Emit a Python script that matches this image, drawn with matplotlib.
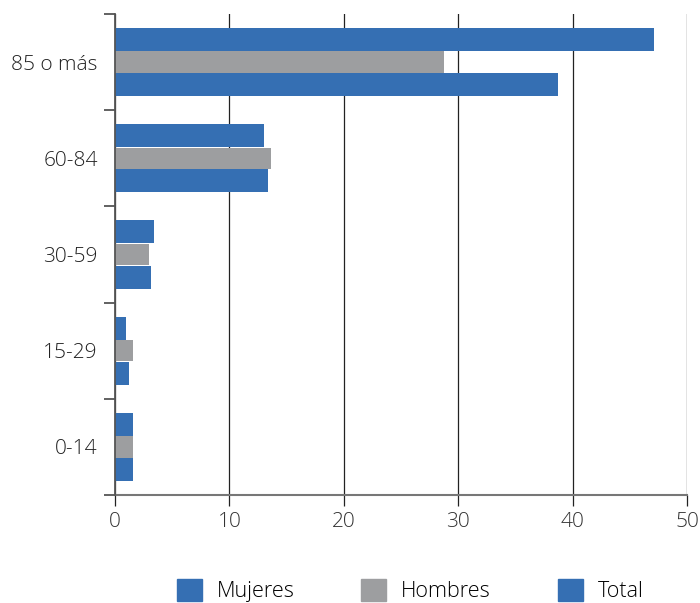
import numpy as np
import matplotlib.pyplot as plt
from matplotlib.patches import Patch

plt.rcParams['font.family'] = ['Open Sans', 'DejaVu Sans']

#%% datos
grupos = ['0-14', '15-29', '30-59', '60-84', '85 o más']
mujeres = [1.55, 0.95, 3.4, 13.0, 47.1]
hombres = [1.55, 1.55, 3.0, 13.6, 28.8]
total = [1.55, 1.2, 3.15, 13.35, 38.7]
series = ['Mujeres', 'Hombres', 'Total']

azul = '#356fb3'
gris = '#9d9ea0'

#%% figura
fig = plt.figure(figsize=(7, 6.03), dpi=100)
ax = fig.add_axes([0.1643, 0.179, 0.8171, 0.7978])

y = np.arange(len(grupos))
h = 0.24
d = 0.235
ax.barh(y + d, mujeres, height=h, color=azul, zorder=3)
ax.barh(y, hombres, height=h * 0.92, color=gris, zorder=3)
ax.barh(y - d, total, height=h, color=azul, zorder=3)

ax.set_xlim(0, 50)
ax.set_ylim(-0.5, len(grupos) - 0.5)
ax.set_xticks(np.arange(0, 51, 10))
ax.set_xticklabels([str(v) for v in range(0, 51, 10)], fontsize=15,
                   fontweight='light', color='#333333')
ax.xaxis.grid(True, color='#222222', linewidth=0.9, zorder=0)

# ticks mayores en los limites de cada grupo, etiquetas en el centro
ax.set_yticks(np.arange(-0.5, len(grupos), 1.0))
ax.set_yticklabels([])
ax.set_yticks(y, minor=True)
ax.set_yticklabels(grupos, minor=True, fontsize=15, fontweight='light',
                   color='#222222')
ax.tick_params(axis='y', which='major', direction='out', length=8,
               width=1.3, color='#555555')
ax.tick_params(axis='y', which='minor', length=0, pad=12.5)
ax.tick_params(axis='x', direction='out', length=8, width=0.9,
               color='#222222', pad=4)

for s in ['top', 'right']:
    ax.spines[s].set_visible(False)
ax.spines['left'].set_color('#555555')
ax.spines['left'].set_linewidth(1.3)
ax.spines['bottom'].set_color('#777777')
ax.spines['bottom'].set_linewidth(1.5)
ax.spines['left'].set_zorder(4)

handles = [Patch(color=azul), Patch(color=gris), Patch(color=azul)]
fig.legend(handles, series, loc='center', bbox_to_anchor=(0.586, 0.02),
           ncol=3, frameon=False, prop={'size': 15.5, 'weight': 'light'},
           handlelength=1.16, handleheight=1.16, handletextpad=0.7,
           columnspacing=3.1, borderpad=0)

fig.savefig('out.png', dpi=100)
